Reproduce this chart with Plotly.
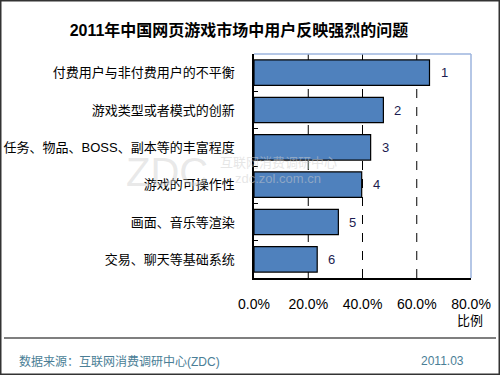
import plotly.graph_objects as go

categories = ["付费用户与非付费用户的不平衡", "游戏类型或者模式的创新",
              "任务、物品、BOSS、副本等的丰富程度", "游戏的可操作性",
              "画面、音乐等渲染", "交易、聊天等基础系统"]
values = [64.7, 47.7, 43.0, 39.7, 31.1, 23.3]
ranks = ["1", "2", "3", "4", "5", "6"]
tick_vals = [0, 20, 40, 60, 80]
tick_text = ["0.0%", "20.0%", "40.0%", "60.0%", "80.0%"]
grid_vals = [20, 40, 60]

FONT = "Arial, 'Liberation Sans', 'Noto Sans CJK SC', sans-serif"

# plot area in pixels
L, R, T, B = 254, 471, 54, 278
W, H = R - L, B - T


def px(x):
    return (x - L) / W


def py(y):
    return (B - y) / H


fig = go.Figure()
fig.add_trace(go.Bar(
    x=values, y=categories, orientation="h",
    marker=dict(color="#4F81BD", line=dict(color="black", width=1.2)),
    width=0.68, showlegend=False, hoverinfo="skip"))

for v, c, r in zip(values, categories, ranks):
    fig.add_annotation(x=v, y=c, text=r, showarrow=False, xanchor="left",
                       xshift=9, font=dict(size=13, color="#1c1c50", family=FONT))

# dashed gridlines below bars
for g in grid_vals:
    fig.add_shape(type="line", xref="x", yref="paper", x0=g, x1=g, y0=0, y1=1,
                  layer="below", line=dict(color="black", width=1, dash="dash"))

fig.update_layout(
    width=500, height=375,
    margin=dict(l=L, r=500 - R, t=T, b=375 - B, autoexpand=False),
    paper_bgcolor="white", plot_bgcolor="white",
    font=dict(family=FONT, color="black", size=12),
    title=dict(text="<b>2011年中国网页游戏市场中用户反映强烈的问题</b>",
               x=239 / 500, xanchor="center", y=1 - 30 / 375, yanchor="middle",
               font=dict(size=16, color="black", family=FONT)),
    xaxis=dict(range=[0, 80], tickvals=tick_vals, ticktext=tick_text,
               showgrid=False,
               showline=True, linecolor="black", linewidth=1.5,
               ticks="", ticklabelstandoff=12, zeroline=False, automargin=False,
               tickfont=dict(size=14, family=FONT)),
    yaxis=dict(autorange="reversed", showline=True, linecolor="black",
               linewidth=1.5, ticks="inside", tickson="boundaries", ticklen=4,
               tickcolor="black", tickwidth=1,
               showgrid=False, automargin=False,
               ticklabelstandoff=15, tickfont=dict(size=13, family=FONT)),
)

# light blue top/right plot border
fig.add_shape(type="line", xref="paper", yref="paper", x0=0, x1=1, y0=1, y1=1,
              line=dict(color="#9DB5DE", width=1.5))
fig.add_shape(type="line", xref="paper", yref="paper", x0=1, x1=1, y0=0, y1=1,
              line=dict(color="#9DB5DE", width=1.5))

# axis unit label
fig.add_annotation(text="比例", xref="paper", yref="paper", x=px(470), y=py(320),
                   showarrow=False, xanchor="center", yanchor="middle",
                   font=dict(size=13, family=FONT))

# watermark
fig.add_annotation(text="ZDC", xref="paper", yref="paper", x=px(167), y=py(172),
                   showarrow=False, xanchor="center", yanchor="middle",
                   font=dict(size=40, color="rgba(205,205,205,0.45)", family=FONT))
fig.add_annotation(text="互联网消费调研中心", xref="paper", yref="paper",
                   x=px(218), y=py(162), showarrow=False, xanchor="left", yanchor="middle",
                   font=dict(size=13, color="rgba(205,205,205,0.5)", family=FONT))
fig.add_annotation(text="zdc.zol.com.cn", xref="paper", yref="paper",
                   x=px(323), y=py(178), showarrow=False, xanchor="right", yanchor="middle",
                   font=dict(size=13, color="rgba(205,205,205,0.5)", family=FONT))

# separator and footer
fig.add_shape(type="line", xref="paper", yref="paper",
              x0=px(4), x1=px(496), y0=py(338), y1=py(338),
              line=dict(color="black", width=1.2))
fig.add_annotation(text="数据来源：互联网消费调研中心(ZDC)", xref="paper", yref="paper",
                   x=px(17), y=py(361), showarrow=False,
                   xanchor="left", yanchor="middle",
                   font=dict(size=12, color="#4A7E96", family=FONT))
fig.add_annotation(text="2011.03", xref="paper", yref="paper",
                   x=px(466), y=py(361), showarrow=False,
                   xanchor="right", yanchor="middle",
                   font=dict(size=12, color="#4A7E96", family=FONT))

# outer border
fig.add_shape(type="rect", xref="paper", yref="paper",
              x0=px(0.75), x1=px(499.25), y0=py(374.25), y1=py(0.75),
              line=dict(color="#333333", width=1.5))

fig.write_html("out.html", config={"displayModeBar": False},
               post_script="document.body.style.margin='0';document.body.style.padding='0';")
